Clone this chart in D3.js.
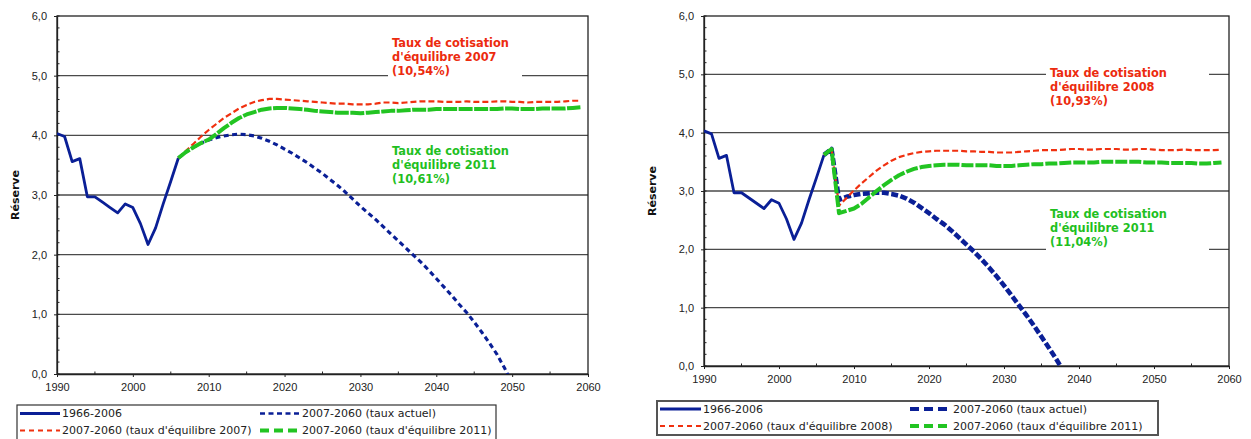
<!DOCTYPE html>
<html>
<head>
<meta charset="utf-8">
<script src="https://cdn.jsdelivr.net/npm/d3@7"></script>
<style>
  body { margin: 0; background: #fff; }
  svg { display: block; font-family: "DejaVu Sans", Verdana, sans-serif; }
</style>
</head>
<body>
<svg id="chart" width="1251" height="439"></svg>
<script>
// ---- Data -------------------------------------------------------------
// Observed reserve (in years of expenditure), 1990-2006
const histStart = 1990;
const histReserve = [4.03, 3.98, 3.56, 3.61, 2.97, 2.97, 2.88, 2.79, 2.70, 2.85,
                     2.79, 2.52, 2.17, 2.45, 2.85, 3.23, 3.62];

// Left panel: projections from 2006
const leftStart = 2006;
const leftActuel = [3.62, 3.72, 3.80, 3.87, 3.92, 3.96, 3.99, 4.01, 4.02, 4.01,
                    3.99, 3.95, 3.90, 3.84, 3.77, 3.70, 3.62, 3.54, 3.45, 3.36,
                    3.26, 3.16, 3.05, 2.93, 2.81, 2.70, 2.59, 2.47, 2.35, 2.23,
                    2.11, 1.99, 1.87, 1.74, 1.60, 1.46, 1.32, 1.17, 1.03, 0.87,
                    0.70, 0.52, 0.33, 0.10, -0.16];
const leftEq2007 = [3.62, 3.74, 3.86, 3.98, 4.09, 4.19, 4.29, 4.37, 4.45, 4.51,
                    4.56, 4.59, 4.61, 4.61, 4.60, 4.59, 4.58, 4.57, 4.56, 4.55,
                    4.54, 4.53, 4.53, 4.52, 4.52, 4.52, 4.53, 4.55, 4.55, 4.54,
                    4.55, 4.56, 4.57, 4.57, 4.57, 4.56, 4.56, 4.56, 4.57, 4.56,
                    4.56, 4.56, 4.57, 4.57, 4.56, 4.56, 4.55, 4.56, 4.56, 4.56,
                    4.56, 4.57, 4.58, 4.58];
const leftEq2011 = [3.62, 3.72, 3.80, 3.87, 3.93, 4.02, 4.12, 4.21, 4.29, 4.35,
                    4.39, 4.43, 4.45, 4.46, 4.46, 4.45, 4.44, 4.43, 4.41, 4.40,
                    4.39, 4.38, 4.38, 4.38, 4.37, 4.38, 4.39, 4.40, 4.41, 4.41,
                    4.42, 4.43, 4.43, 4.43, 4.44, 4.44, 4.44, 4.44, 4.44, 4.44,
                    4.44, 4.44, 4.44, 4.45, 4.45, 4.44, 4.44, 4.44, 4.45, 4.45,
                    4.45, 4.45, 4.46, 4.47];

// Right panel: projections from 2006
const rightStart = 2006;
const rightActuel = [3.62, 3.72, 2.85, 2.90, 2.93, 2.95, 2.96, 2.97, 2.97, 2.95,
                     2.92, 2.87, 2.80, 2.71, 2.62, 2.52, 2.43, 2.32, 2.20, 2.08,
                     1.96, 1.83, 1.69, 1.54, 1.38, 1.21, 1.04, 0.87, 0.69, 0.50,
                     0.31, 0.11, -0.10];
const rightEq2008 = [3.62, 3.72, 2.75, 2.88, 3.01, 3.13, 3.24, 3.35, 3.44, 3.52,
                     3.58, 3.62, 3.65, 3.67, 3.68, 3.69, 3.69, 3.69, 3.69, 3.68,
                     3.68, 3.67, 3.67, 3.66, 3.66, 3.66, 3.67, 3.68, 3.69, 3.70,
                     3.70, 3.70, 3.71, 3.72, 3.72, 3.71, 3.71, 3.72, 3.72, 3.72,
                     3.71, 3.71, 3.72, 3.72, 3.71, 3.70, 3.70, 3.70, 3.71, 3.70,
                     3.70, 3.70, 3.70, 3.71];
const rightEq2011 = [3.62, 3.72, 2.62, 2.66, 2.70, 2.78, 2.89, 3.00, 3.10, 3.19,
                     3.27, 3.33, 3.38, 3.41, 3.43, 3.44, 3.45, 3.45, 3.45, 3.44,
                     3.44, 3.44, 3.44, 3.43, 3.43, 3.43, 3.44, 3.45, 3.46, 3.46,
                     3.47, 3.47, 3.48, 3.49, 3.49, 3.49, 3.49, 3.50, 3.50, 3.50,
                     3.50, 3.50, 3.50, 3.49, 3.49, 3.49, 3.48, 3.48, 3.48, 3.48,
                     3.47, 3.47, 3.48, 3.49];

// Axes
const yTickValues = [0, 1, 2, 3, 4, 5, 6];
const xTickValues = [1990, 2000, 2010, 2020, 2030, 2040, 2050, 2060];
const yTitle = "Réserve";

// Legends and notes
const legendLeft = ["1966-2006", "2007-2060 (taux actuel)",
                    "2007-2060 (taux d'équilibre 2007)", "2007-2060 (taux d'équilibre 2011)"];
const legendRight = ["1966-2006", "2007-2060 (taux actuel)",
                     "2007-2060 (taux d'équilibre 2008)", "2007-2060 (taux d'équilibre 2011)"];
const notesLeftRed = ["Taux de cotisation", "d'équilibre 2007", "(10,54%)"];
const notesLeftGreen = ["Taux de cotisation", "d'équilibre 2011", "(10,61%)"];
const notesRightRed = ["Taux de cotisation", "d'équilibre 2008", "(10,93%)"];
const notesRightGreen = ["Taux de cotisation", "d'équilibre 2011", "(11,04%)"];

// ---- Styling ----------------------------------------------------------
const NAVY = "#0a1f96", RED = "#f0300f", GREEN = "#22c422";
const RED_TXT = "#ec2b0e", GREEN_TXT = "#1fc01f";

const fr = d3.formatLocale({decimal: ",", thousands: " ", grouping: [3], currency: ["", " €"]});
const fmtY = fr.format(".1f");

const svg = d3.select("#chart");

function toPoints(start, values) {
  return values.map((v, i) => ({x: start + i, y: v}));
}

function drawPanel(cfg) {
  const {left, right, top, bottom} = cfg.box;
  const x = d3.scaleLinear().domain([1990, 2060]).range([left, right]);
  const y = d3.scaleLinear().domain([0, 6]).range([bottom, top]);
  const g = svg.append("g");

  // horizontal gridlines
  g.append("g").selectAll("line").data(yTickValues.slice(1, -1)).join("line")
    .attr("x1", left).attr("x2", right)
    .attr("y1", d => y(d)).attr("y2", d => y(d))
    .attr("stroke", "#4a4a4a").attr("stroke-width", 1.3);

  // white boxes behind notes
  cfg.notes.forEach(n => {
    g.append("rect")
      .attr("x", n.bx).attr("y", n.y - 12).attr("width", n.bw).attr("height", 48)
      .attr("fill", "#fff");
  });

  // plot frame
  g.append("rect").attr("x", left).attr("y", top)
    .attr("width", right - left).attr("height", bottom - top)
    .attr("fill", "none").attr("stroke", "#222").attr("stroke-width", 1.3);

  // y axis
  const yAxis = g.append("g").attr("transform", `translate(${left},0)`)
    .call(d3.axisLeft(y).tickValues(yTickValues).tickFormat(fmtY).tickSizeInner(3).tickSizeOuter(0).tickPadding(7));
  yAxis.select(".domain").attr("stroke", "#222").attr("stroke-width", 1.3);
  yAxis.selectAll("text").attr("font-size", "11px").attr("fill", "#222");
  yAxis.selectAll(".tick line").attr("stroke", "#222");
  // minor y ticks (inside)
  g.append("g").selectAll("line").data(d3.range(0, 6.01, 0.2)).join("line")
    .attr("x1", left).attr("x2", left + 2.5)
    .attr("y1", d => y(d)).attr("y2", d => y(d))
    .attr("stroke", "#222");

  // x axis
  const xAxis = g.append("g").attr("transform", `translate(0,${bottom})`)
    .call(d3.axisBottom(x).tickValues(xTickValues).tickFormat(d3.format("d")).tickSizeInner(3).tickSizeOuter(0).tickPadding(6));
  xAxis.select(".domain").attr("stroke", "#222").attr("stroke-width", 1.3);
  xAxis.selectAll("text").attr("font-size", "11px").attr("fill", "#222");
  xAxis.selectAll(".tick line").attr("stroke", "#222");
  g.append("g").selectAll("line").data(d3.range(1995, 2060, 10)).join("line")
    .attr("x1", d => x(d)).attr("x2", d => x(d))
    .attr("y1", bottom).attr("y2", bottom - 2.5)
    .attr("stroke", "#222");

  // y title
  g.append("text")
    .attr("transform", `translate(${cfg.titleX},${(top + bottom) / 2}) rotate(-90)`)
    .attr("text-anchor", "middle").attr("font-size", "11px").attr("font-weight", "bold")
    .attr("fill", "#111").text(yTitle);

  // clip for series
  const clipId = "clip" + cfg.id;
  svg.append("defs").append("clipPath").attr("id", clipId)
    .append("rect").attr("x", left).attr("y", top - 5).attr("width", right - left).attr("height", bottom - top + 5);

  const line = d3.line().x(d => x(d.x)).y(d => y(d.y));
  const series = g.append("g").attr("clip-path", `url(#${clipId})`);
  cfg.series.forEach(s => {
    series.append("path").datum(s.points)
      .attr("d", line).attr("fill", "none")
      .attr("stroke", s.color).attr("stroke-width", s.width)
      .attr("stroke-dasharray", s.dash || null)
      .attr("stroke-linejoin", "round");
  });

  // notes
  cfg.notes.forEach(n => {
    const t = g.append("text").attr("x", n.x).attr("y", n.y)
      .attr("font-size", "11.4px").attr("font-weight", "bold").attr("fill", n.color);
    n.lines.forEach((l, i) => t.append("tspan").attr("x", n.x).attr("dy", i ? 14.2 : 0).text(l));
  });

  // legend
  const L = cfg.legend;
  g.append("rect").attr("x", L.x).attr("y", L.y).attr("width", L.w).attr("height", L.h)
    .attr("fill", "#fff").attr("stroke", L.stroke).attr("stroke-width", L.sw);
  cfg.series.forEach((s, i) => {
    const col = i % 2, row = Math.floor(i / 2);
    const sx = L.x + 3 + col * L.colW;
    const sy = L.y + L.row0 + row * L.rowH;
    g.append("line").attr("x1", sx).attr("x2", sx + L.sample)
      .attr("y1", sy).attr("y2", sy)
      .attr("stroke", s.color).attr("stroke-width", s.legWidth || s.width)
      .attr("stroke-dasharray", s.legDash || s.dash || null);
    g.append("text").attr("x", sx + L.sample + 2).attr("y", sy).attr("dy", "0.36em")
      .attr("font-size", "11px").attr("fill", "#222").text(L.labels[i]);
  });
}

// ---- Left panel -------------------------------------------------------
drawPanel({
  id: "L",
  box: {left: 57, right: 588, top: 16, bottom: 374},
  titleX: 19,
  series: [
    {points: toPoints(histStart, histReserve), color: NAVY, width: 2.8},
    {points: toPoints(leftStart, leftActuel), color: NAVY, width: 3.1, dash: "5,3.5", legWidth: 2.4},
    {points: toPoints(leftStart, leftEq2007), color: RED, width: 2.2, dash: "6,3", legDash: "5,4"},
    {points: toPoints(leftStart, leftEq2011), color: GREEN, width: 4, dash: "14,1.5", legDash: "9,5"}
  ],
  notes: [
    {x: 392, y: 47, bx: 388, bw: 134, color: RED_TXT, lines: notesLeftRed},
    {x: 392, y: 155, bx: 388, bw: 134, color: GREEN_TXT, lines: notesLeftGreen}
  ],
  legend: {x: 17, y: 405, w: 479, h: 42, row0: 8.5, rowH: 17, colW: 240, sample: 40,
           stroke: "#333", sw: 1.2, labels: legendLeft}
});

// ---- Right panel ------------------------------------------------------
drawPanel({
  id: "R",
  box: {left: 704, right: 1229, top: 16, bottom: 366},
  titleX: 656,
  series: [
    {points: toPoints(histStart, histReserve), color: NAVY, width: 2.8},
    {points: toPoints(rightStart, rightActuel), color: NAVY, width: 4.6, dash: "7,2.5", legWidth: 4, legDash: "9,5"},
    {points: toPoints(rightStart, rightEq2008), color: RED, width: 2.2, dash: "6,3", legDash: "5,4"},
    {points: toPoints(rightStart, rightEq2011), color: GREEN, width: 4, dash: "12,2", legDash: "9,5"}
  ],
  notes: [
    {x: 1050, y: 77, bx: 1046, bw: 163, color: RED_TXT, lines: notesRightRed},
    {x: 1050, y: 218, bx: 1046, bw: 163, color: GREEN_TXT, lines: notesRightGreen}
  ],
  legend: {x: 657, y: 401, w: 501, h: 34, row0: 8, rowH: 17, colW: 250, sample: 41,
           stroke: "#555", sw: 2, labels: legendRight}
});
</script>
</body>
</html>
